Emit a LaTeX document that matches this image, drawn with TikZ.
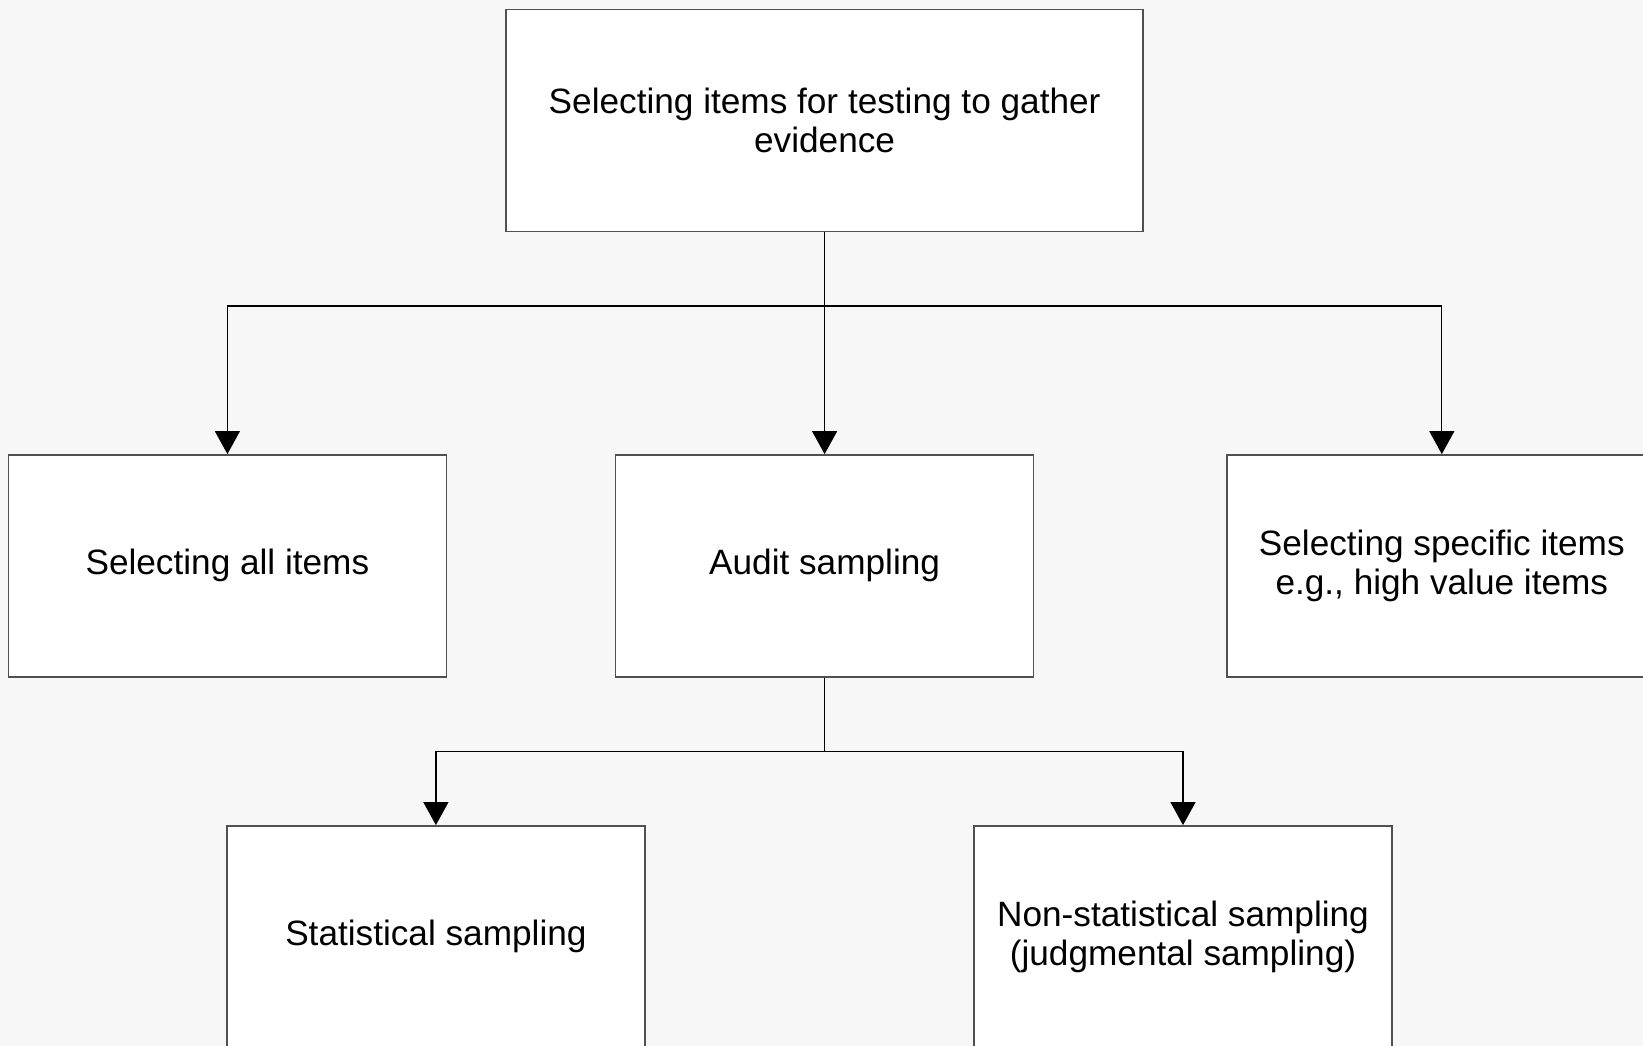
\documentclass[tikz,border=0pt]{standalone}
\usepackage{fontspec}
\setmainfont{Liberation Sans}
\usetikzlibrary{arrows.meta}
\definecolor{bgcol}{HTML}{F7F7F7}
\definecolor{boxline}{HTML}{505050}
\tikzset{
  box/.style={draw=boxline, line width=1.4pt, fill=white, rectangle,
    minimum height=222pt, inner sep=0pt, align=center,
    font=\fontsize{35.2}{39.8}\selectfont},
  arr/.style={line width=1.2pt, -{Triangle[width=25pt,length=23pt]}},
  conn/.style={line width=1.2pt}
}
\begin{document}
\begin{tikzpicture}[x=1pt,y=-1pt]
\fill[bgcol] (0,0) rectangle (1643,1046);
\useasboundingbox (0,0) rectangle (1643,1046);
\begin{scope}
\clip (0,0) rectangle (1643,1046);
\node[box, minimum width=637pt] (top) at (824.6,120.5) {Selecting items for testing to gather\\evidence};
\node[box, minimum width=438pt] (all) at (227.4,565.8) {Selecting all items};
\node[box, minimum width=418pt] (audit) at (824.6,565.8) {Audit sampling};
\node[box, minimum width=430pt] (spec) at (1441.8,565.8) {Selecting specific items\\e.g., high value items};
\node[box, minimum width=418pt] (stat) at (435.9,936.8) {Statistical sampling};
\node[box, minimum width=418pt] (nonstat) at (1183,936.8) {Non-statistical sampling\\(judgmental sampling)};
\coordinate (j1) at (824.6,306);
\coordinate (j2) at (824.6,751.3);
\draw[arr] (top.south) -- (audit.north);
\draw[arr] (j1) -| (all.north);
\draw[arr] (j1) -| (spec.north);
\draw[conn] (audit.south) -- (j2);
\draw[arr] (j2) -| (stat.north);
\draw[arr] (j2) -| (nonstat.north);
\end{scope}
\end{tikzpicture}
\end{document}
